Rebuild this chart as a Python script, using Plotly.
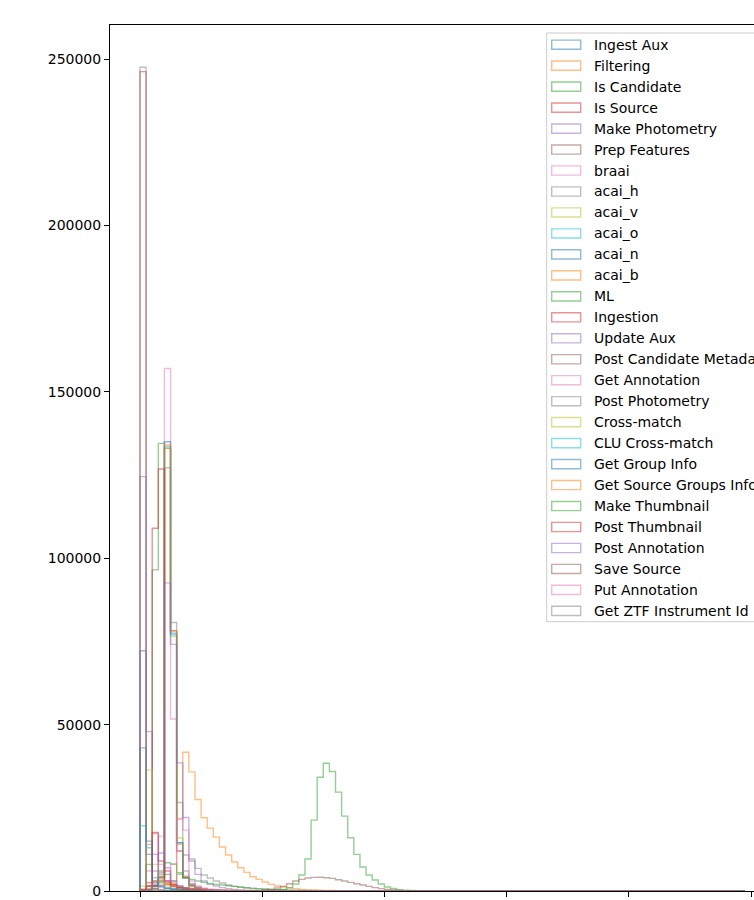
import numpy as np
import plotly.graph_objects as go

# ---------------- data (counts per 0.05-wide bin, starting at 0) ----------------
BIN_WIDTH = 0.05
N_BINS = 99

series_names = [
    "Ingest Aux", "Filtering", "Is Candidate", "Is Source", "Make Photometry",
    "Prep Features", "braai", "acai_h", "acai_v", "acai_o", "acai_n", "acai_b",
    "ML", "Ingestion", "Update Aux", "Post Candidate Metadata", "Get Annotation",
    "Post Photometry", "Cross-match", "CLU Cross-match", "Get Group Info",
    "Get Source Groups Info", "Make Thumbnail", "Post Thumbnail",
    "Post Annotation", "Save Source", "Put Annotation", "Get ZTF Instrument Id",
]

ingest_aux = [72200, 11000, 2500, 1200, 800, 600, 400, 300, 200, 150, 100, 80, 60, 40, 30, 20]
filtering = [300, 800, 1500, 1800, 2000, 2500, 21600, 41700, 35800, 27500, 22000, 18900,
             16200, 13200, 10800, 8700, 7000, 5600, 4300, 3500, 2700, 2000, 1500, 1200,
             900, 700, 500, 400, 300, 250, 200, 150, 120, 100, 80, 60, 50, 40, 30, 20]
is_candidate = [500, 8000, 96500, 134500, 5000, 2000, 1000, 600, 400, 300, 200, 150, 100, 80, 60, 40]
is_source = [246200, 2500, 800, 400, 250, 150, 100, 80, 60, 40, 30, 20]
make_photometry = [124500, 47900, 11000, 5500, 3000, 2000, 1500, 1000, 700, 500, 400, 300,
                   200, 150, 100, 80, 60, 40]
prep_features = [200, 500, 1500, 6000, 133000, 78200, 12000, 4000, 2000, 1200, 800, 500,
                 300, 200, 150, 100, 80, 50]
braai = [0, 300, 3000, 16500, 157000, 51700, 12000, 4500, 1800, 900, 500, 300, 200, 100, 80, 50]
acai_h = [0, 200, 1500, 5000, 127200, 80700, 26600, 6000, 2200, 1000, 500, 300, 200, 100, 80, 50]
acai_v = [0, 200, 1500, 4500, 133000, 76500, 16000, 4000, 1600, 800, 400, 250, 150, 100, 60, 40]
acai_o = [0, 200, 1500, 4000, 133500, 77000, 14500, 4000, 1600, 800, 400, 250, 150, 100, 60, 40]
acai_n = [0, 200, 1500, 4200, 135000, 77500, 14500, 4000, 1600, 800, 400, 250, 150, 100, 60, 40]
acai_b = [0, 200, 1500, 4300, 134000, 78200, 14000, 4000, 1600, 800, 400, 250, 150, 100, 60, 40]
ml = [0, 0, 0, 0, 0, 0, 0, 0, 0, 0, 0, 0, 0, 0, 0, 0, 0, 0, 60, 100, 150, 200,
      300, 500, 1000, 2100, 4800, 9600, 21300, 34200, 38400, 35900, 29700, 22500,
      16000, 11000, 7200, 4800, 3300, 2100, 1200, 750, 400, 250, 150, 80, 40]
ingestion = [0, 1500, 109000, 126800, 6000, 2000, 1000, 600, 400, 300, 200, 150, 100, 60, 40]
update_aux = [0, 300, 1500, 4000, 92600, 74100, 38500, 22100, 9000, 5000, 3000, 2000, 1500,
              1000, 700, 500, 300, 200, 100]
post_candidate_metadata = [0, 200, 1500, 3000, 2000, 1500, 1200, 1000, 800, 600, 500, 400,
                           300, 250, 200, 150, 120, 100, 80, 60, 40]
get_annotation = [500, 6000, 17300, 8000, 3000, 1500, 800, 500, 300, 200, 100, 60, 40]
post_photometry = [500, 14000, 6000, 3000, 2500, 3000, 5000, 10800, 9600, 6800, 4800, 3900,
                   3000, 2400, 1800, 1400, 1100, 900, 700, 550, 450, 350, 280, 220, 170, 130,
                   100, 80, 60, 40]
cross_match = [1500, 36400, 8000, 3000, 1500, 1000, 700, 500, 300, 200, 100, 60]
clu_cross_match = [19600, 13000, 4000, 1500, 800, 500, 300, 200, 100, 60]
get_group_info = [43000, 15000, 3000, 1500, 900, 600, 400, 300, 200, 150, 100, 60]
get_source_groups_info = [400, 1300, 2800, 3500, 2500, 1800, 1300, 1000, 800, 600, 500, 400,
                          350, 300, 250, 200, 180, 160, 140, 120, 100, 90, 80, 70, 60, 50,
                          40, 30, 20, 10]
make_thumbnail = [0, 200, 800, 2500, 8500, 8100, 5500, 4200, 3500, 3000, 2600, 2300, 2000,
                  1800, 1600, 1400, 1200, 1000, 850, 700, 600, 500, 400, 300, 250, 200, 150,
                  100, 60, 30]
post_thumbnail = [300, 1500, 17600, 9000, 3000, 1500, 900, 600, 400, 300, 200, 150, 100, 60, 40]
post_annotation = [0, 500, 2000, 11400, 7000, 3000, 1500, 900, 600, 400, 250, 150, 100, 60]
save_source = [0, 0, 0, 0, 0, 0, 0, 0, 0, 0, 0, 0, 0, 0, 0, 0, 0, 0, 0, 100, 250, 500, 900,
               1400, 2200, 3000, 3500, 3900, 4100, 4150, 4000, 3800, 3400, 3000, 2600, 2200,
               1800, 1400, 1000, 700, 500, 300, 200, 100, 50]
put_annotation = [0, 0, 500, 1500, 3000, 8000, 21800, 18300, 3000, 1500, 800, 500, 300, 200, 100]
get_ztf_instrument_id = [247500, 1500, 500, 200, 100, 60, 40, 20]

series_counts = [
    ingest_aux, filtering, is_candidate, is_source, make_photometry, prep_features,
    braai, acai_h, acai_v, acai_o, acai_n, acai_b, ml, ingestion, update_aux,
    post_candidate_metadata, get_annotation, post_photometry, cross_match,
    clu_cross_match, get_group_info, get_source_groups_info, make_thumbnail,
    post_thumbnail, post_annotation, save_source, put_annotation, get_ztf_instrument_id,
]

x_tick_values = [0, 1, 2, 3, 4, 5]
y_tick_values = [0, 50000, 100000, 150000, 200000, 250000]

# ---------------- style ----------------
TAB10 = [(31, 119, 180), (255, 127, 14), (44, 160, 44), (214, 39, 40), (148, 103, 189),
         (140, 86, 75), (227, 119, 194), (127, 127, 127), (188, 189, 34), (23, 190, 207)]
FONT = "DejaVu Sans"
W, H = 754, 900
# plot-area bounds in page pixels (the axes continue past the visible right edge)
L, T, B, R = 110, 25, 891, 754


def rgba(c, a=0.5):
    return f"rgba({c[0]},{c[1]},{c[2]},{a})"


def px_x(p):
    return (p - L) / (R - L)


def px_y(p):
    return (B - p) / (B - T)


edges = np.arange(N_BINS + 1) * BIN_WIDTH

fig = go.Figure()
for i, (name, counts) in enumerate(zip(series_names, series_counts)):
    c = np.zeros(N_BINS)
    c[:len(counts)] = counts
    xs = np.concatenate([[edges[0]], edges[:-1], [edges[-1], edges[-1]]])
    ys = np.concatenate([[0], c, [c[-1], 0]])
    fig.add_trace(go.Scatter(
        x=xs, y=ys, mode="lines", line_shape="hv", name=name,
        line=dict(color=rgba(TAB10[i % 10]), width=1.4),
        showlegend=False, hoverinfo="name+y",
    ))

# x range: 0 sits at page x=140, one unit = 122.2 px
x_unit = 122.2
x0_px = 140.0
x_range = [(L - x0_px) / x_unit, (R - x0_px) / x_unit]
y_per_px = 250000 / (B - 59)
y_range = [0, (B - T) * y_per_px]

fig.update_layout(
    width=W, height=H,
    margin=dict(l=L, r=W - R, t=T, b=H - B, pad=0),
    plot_bgcolor="white", paper_bgcolor="white",
    font=dict(family=FONT, size=14, color="black"),
    showlegend=False,
    xaxis=dict(range=x_range, tickvals=x_tick_values, showticklabels=False,
               ticks="outside", ticklen=5, tickwidth=1, tickcolor="black",
               showline=True, linecolor="black", linewidth=1, mirror=True,
               showgrid=False, zeroline=False),
    yaxis=dict(range=y_range, tickvals=y_tick_values,
               ticktext=[str(v) for v in y_tick_values],
               ticks="outside", ticklen=5, tickwidth=1, tickcolor="black",
               showline=True, linecolor="black", linewidth=1, mirror=False,
               showgrid=False, zeroline=False,
               tickfont=dict(family=FONT, size=14, color="black")),
)

# ---------------- legend drawn as matplotlib-style box ----------------
shapes = []
annotations = []
box_left, box_top, box_bottom = 546.7, 33.0, 621.7
shapes.append(dict(type="rect", xref="paper", yref="paper",
                   x0=px_x(box_left), x1=px_x(W + 30), y0=px_y(box_bottom), y1=px_y(box_top),
                   line=dict(color="#cccccc", width=1), fillcolor="rgba(255,255,255,0.8)",
                   layer="above"))
first_cy, step = 44.7, 20.97
for i, name in enumerate(series_names):
    cy = first_cy + step * i
    shapes.append(dict(type="rect", xref="paper", yref="paper",
                       x0=px_x(551.7), x1=px_x(580.7), y0=px_y(cy + 4.6), y1=px_y(cy - 4.6),
                       line=dict(color=rgba(TAB10[i % 10]), width=1.4),
                       fillcolor="white", layer="above"))
    annotations.append(dict(xref="paper", yref="paper", x=px_x(592.3), y=px_y(cy),
                            text=name, showarrow=False, xanchor="left", yanchor="middle",
                            font=dict(family=FONT, size=14, color="black")))
fig.update_layout(shapes=shapes, annotations=annotations)

fig.write_html(
    "out.html",
    config={"displayModeBar": False},
    post_script="document.body.style.margin='0';document.body.style.overflow='hidden';",
)
